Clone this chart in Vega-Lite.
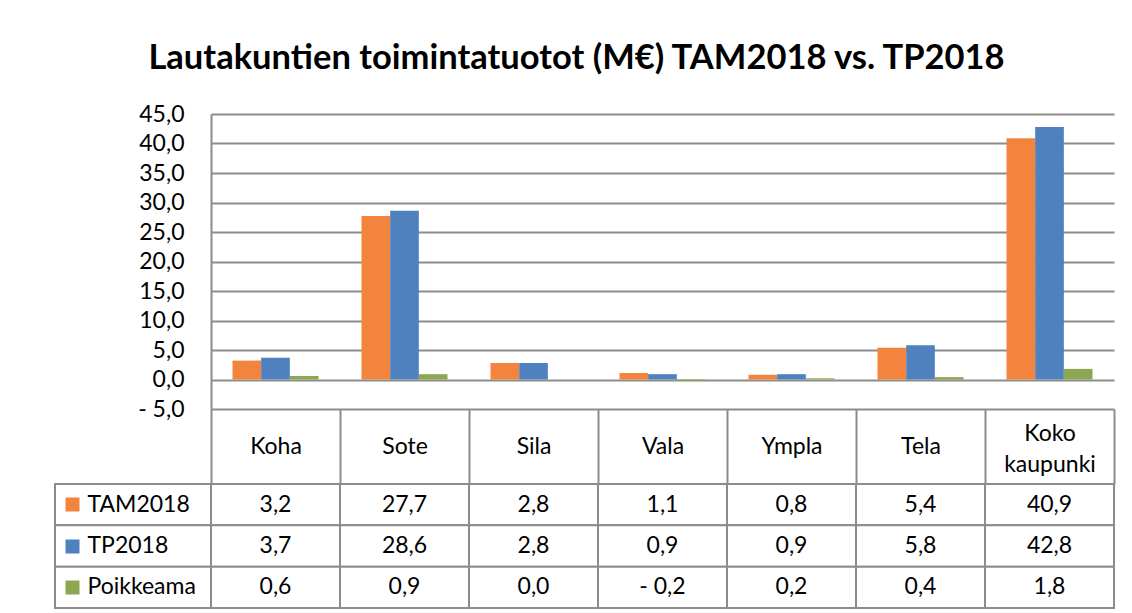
{
  "$schema": "https://vega.github.io/schema/vega-lite/v6.json",
  "padding": {"left": 54, "top": 40, "right": 19, "bottom": 6},
  "background": "white",
  "config": {
    "font": "Lato",
    "locale": {"number": {"decimal": ",", "thousands": " ", "grouping": [3], "currency": ["", " €"], "minus": "- "}},
    "view": {"stroke": null}
  },
  "title": {"text": "Lautakuntien toimintatuotot (M€) TAM2018 vs. TP2018", "fontSize": 34.5, "fontWeight": "bold", "font": "Lato", "color": "black", "anchor": "middle", "offset": 27, "dx": -8},
  "data": {"values": [
    {"kategoria": "Koha", "sarja": "TAM2018", "arvo": 3.2},
    {"kategoria": "Koha", "sarja": "TP2018", "arvo": 3.7},
    {"kategoria": "Koha", "sarja": "Poikkeama", "arvo": 0.6},
    {"kategoria": "Sote", "sarja": "TAM2018", "arvo": 27.7},
    {"kategoria": "Sote", "sarja": "TP2018", "arvo": 28.6},
    {"kategoria": "Sote", "sarja": "Poikkeama", "arvo": 0.9},
    {"kategoria": "Sila", "sarja": "TAM2018", "arvo": 2.8},
    {"kategoria": "Sila", "sarja": "TP2018", "arvo": 2.8},
    {"kategoria": "Sila", "sarja": "Poikkeama", "arvo": 0.0},
    {"kategoria": "Vala", "sarja": "TAM2018", "arvo": 1.1},
    {"kategoria": "Vala", "sarja": "TP2018", "arvo": 0.9},
    {"kategoria": "Vala", "sarja": "Poikkeama", "arvo": -0.2},
    {"kategoria": "Ympla", "sarja": "TAM2018", "arvo": 0.8},
    {"kategoria": "Ympla", "sarja": "TP2018", "arvo": 0.9},
    {"kategoria": "Ympla", "sarja": "Poikkeama", "arvo": 0.2},
    {"kategoria": "Tela", "sarja": "TAM2018", "arvo": 5.4},
    {"kategoria": "Tela", "sarja": "TP2018", "arvo": 5.8},
    {"kategoria": "Tela", "sarja": "Poikkeama", "arvo": 0.4},
    {"kategoria": "Koko kaupunki", "sarja": "TAM2018", "arvo": 40.9},
    {"kategoria": "Koko kaupunki", "sarja": "TP2018", "arvo": 42.8},
    {"kategoria": "Koko kaupunki", "sarja": "Poikkeama", "arvo": 1.8}
  ]},
  "columns": 2,
  "spacing": {"row": 75, "column": 0},
  "bounds": "flush",
  "concat": [
    {
      "width": 156, "height": 295,
      "data": {"values": []},
      "mark": "point"
    },
    {
      "width": 903, "height": 295,
      "mark": {"type": "bar"},
      "encoding": {
        "x": {"field": "kategoria", "type": "nominal",
          "sort": ["Koha", "Sote", "Sila", "Vala", "Ympla", "Tela", "Koko kaupunki"],
          "scale": {"paddingInner": 0, "paddingOuter": 0},
          "axis": {"title": null, "orient": "bottom", "tickBand": "extent", "tickSize": 75, "tickWidth": 2, "tickColor": "#8c8c8c",
            "domain": false,
            "labelPadding": {"condition": {"test": "datum.value == 'Koko kaupunki'", "value": -51}, "value": -37.5},
            "labelBaseline": "middle", "labelAngle": 0, "labelFontSize": 23,
            "labelColor": "black", "labelExpr": "split(datum.label, ' ')", "labelLineHeight": 31, "grid": false}},
        "xOffset": {"field": "sarja", "type": "nominal", "sort": ["TAM2018", "TP2018", "Poikkeama"],
          "scale": {"paddingInner": 0, "paddingOuter": 0.75}},
        "y": {"field": "arvo", "type": "quantitative", "scale": {"domain": [-5, 45], "nice": false, "zero": false},
          "axis": {"title": null, "values": [-5, 0, 5, 10, 15, 20, 25, 30, 35, 40, 45], "format": ".1f", "grid": true,
            "gridColor": "#8c8c8c", "gridWidth": 2, "ticks": false, "labelPadding": 27, "domainColor": "#8c8c8c",
            "domainWidth": 2, "labelFontSize": 23, "labelColor": "black"}},
        "color": {"field": "sarja", "type": "nominal",
          "scale": {"domain": ["TAM2018", "TP2018", "Poikkeama"], "range": ["#F3843E", "#4E81BD", "#8CA652"]},
          "legend": null}
      }
    },
    {
      "width": 156, "height": 124,
      "transform": [{"filter": "datum.kategoria == 'Koha'"}],
      "mark": {"type": "rect", "fill": "white", "stroke": "#8c8c8c", "strokeWidth": 2},
      "encoding": {
        "y": {"field": "sarja", "type": "nominal", "sort": ["TAM2018", "TP2018", "Poikkeama"],
          "scale": {"paddingInner": 0, "paddingOuter": 0},
          "axis": {"title": null, "orient": "left", "offset": -24, "tickSize": 14, "tickWidth": 14,
            "tickColor": {"condition": [
              {"test": "datum.value == 'TAM2018'", "value": "#F3843E"},
              {"test": "datum.value == 'TP2018'", "value": "#4E81BD"}], "value": "#8CA652"},
            "domain": false, "labelPadding": -22, "labelAlign": "left", "labelFontSize": 23, "labelColor": "black", "zindex": 1}}
      }
    },
    {
      "width": 903, "height": 124,
      "encoding": {
        "x": {"field": "kategoria", "type": "nominal",
          "sort": ["Koha", "Sote", "Sila", "Vala", "Ympla", "Tela", "Koko kaupunki"],
          "scale": {"paddingInner": 0, "paddingOuter": 0}, "axis": null},
        "y": {"field": "sarja", "type": "nominal", "sort": ["TAM2018", "TP2018", "Poikkeama"],
          "scale": {"paddingInner": 0, "paddingOuter": 0}, "axis": null}
      },
      "layer": [
        {"mark": {"type": "rect", "fill": "white", "stroke": "#8c8c8c", "strokeWidth": 2}},
        {"mark": {"type": "text", "fontSize": 23, "color": "black", "baseline": "middle", "align": "center"},
          "encoding": {"text": {"field": "arvo", "type": "quantitative", "format": ".1f"}}}
      ]
    }
  ]
}
